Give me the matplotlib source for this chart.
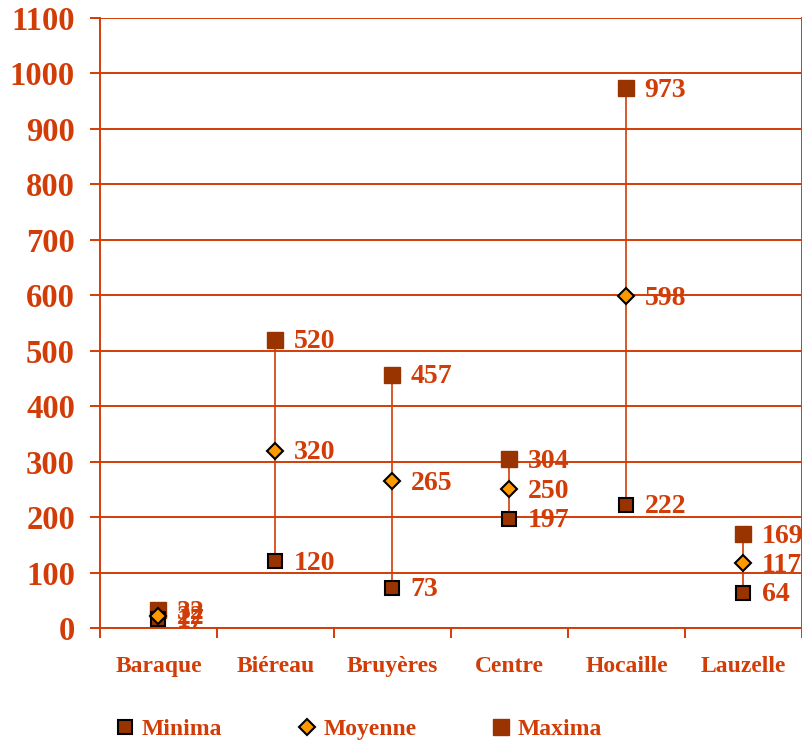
import matplotlib
matplotlib.use("Agg")
import matplotlib.pyplot as plt
from matplotlib.lines import Line2D

categories = ["Baraque", "Biéreau", "Bruyères", "Centre", "Hocaille", "Lauzelle"]
minima = [17, 120, 73, 197, 222, 64]
moyenne = [22, 320, 265, 250, 598, 117]
maxima = [32, 520, 457, 304, 973, 169]
yticks = list(range(0, 1101, 100))

RED = "#D23C06"
BROWN = "#993300"
ORANGE = "#FF9900"
FONT = "Liberation Serif"

plt.rcParams['font.family'] = [FONT, 'DejaVu Serif']
plt.rcParams['font.weight'] = 'bold'

fig = plt.figure(figsize=(8.03, 7.43), dpi=100)
ax = fig.add_axes([100/803, 1-628/743, 702/803, (628-18)/743])

x = list(range(len(categories)))
ax.set_xlim(-0.5, len(categories)-0.5)
ax.set_ylim(0, 1100)

for yv in yticks:
    ax.axhline(yv, color=RED, lw=1.4, zorder=1)

for i in x:
    ax.plot([i, i], [minima[i], maxima[i]], color=RED, lw=1.2, zorder=2)

ax.plot(x, maxima, ls='none', marker='s', ms=11.5, mfc=BROWN, mec=BROWN, mew=1, zorder=3)
ax.plot(x, minima, ls='none', marker='s', ms=10, mfc=BROWN, mec='black', mew=1.5, zorder=4)
ax.plot(x, moyenne, ls='none', marker='D', ms=8.5, mfc=ORANGE, mec='black', mew=1.5, zorder=5)

for series in (maxima, moyenne, minima):
    for i, v in zip(x, series):
        ax.annotate(str(v), (i, v), xytext=(13, -1.5), textcoords='offset points',
                    ha='left', va='center', color=RED, fontsize=20,
                    fontweight='bold', annotation_clip=False, zorder=6)

ax.set_yticks(yticks)
ax.set_yticklabels([str(v) for v in yticks])
ax.set_xticks([i - 0.5 for i in range(len(categories)+1)])
ax.set_xticklabels([])
ax.set_xticks(x, minor=True)
ax.set_xticklabels(categories, minor=True)

ax.tick_params(axis='y', colors=RED, labelcolor=RED, length=7, width=1.4,
               direction='out', pad=11, labelsize=23.5)
ax.tick_params(axis='x', which='major', colors=RED, length=7, width=1.4, direction='out')
ax.tick_params(axis='x', which='minor', length=0, pad=20, labelsize=17, labelcolor=RED)
for lab in ax.get_yticklabels() + ax.get_xticklabels(minor=True):
    lab.set_fontweight('bold')

for s in ['left', 'bottom', 'right']:
    ax.spines[s].set_color(RED)
    ax.spines[s].set_linewidth(1.4)
ax.spines['top'].set_visible(False)

handles = [
    Line2D([], [], ls='none', marker='s', ms=10, mfc=BROWN, mec='black', mew=1.5),
    Line2D([], [], ls='none', marker='D', ms=8.5, mfc=ORANGE, mec='black', mew=1.5),
    Line2D([], [], ls='none', marker='s', ms=11, mfc=BROWN, mec=BROWN),
]
leg = fig.legend(handles, ["Minima", "Moyenne", "Maxima"], ncol=3, frameon=False,
                 loc='center left', bbox_to_anchor=(94/803, 1-729/743),
                 handlelength=0.8, handletextpad=0.3, columnspacing=3.2,
                 prop={'family': FONT, 'weight': 'bold', 'size': 17})
for t in leg.get_texts():
    t.set_color(RED)

fig.savefig("out.png", dpi=100)
